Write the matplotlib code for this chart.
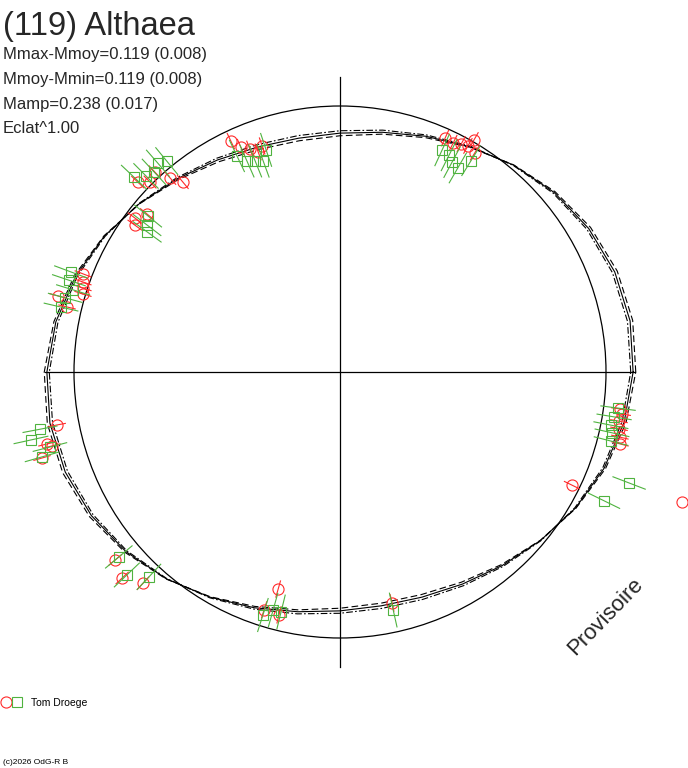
import numpy as np
import matplotlib
matplotlib.use("Agg")
import matplotlib.pyplot as plt
from matplotlib.patches import Circle
from matplotlib.legend_handler import HandlerTuple

plt.rcParams["font.family"] = ["Liberation Sans", "DejaVu Sans"]

# ---------------------------------------------------------------- data

title = "(119) Althaea"
stats = [
    "Mmax-Mmoy=0.119 (0.008)",
    "Mmoy-Mmin=0.119 (0.008)",
    "Mamp=0.238 (0.017)",
    "Eclat^1.00",
]
observer = "Tom Droege"

# phase angle [deg] and magnitude offset from mean [mag]
red_phase = [65.8, 63.7, 62.0, 60.5, 60.0, 58.4,
             115.3, 113.8, 112.0, 110.4, 109.0,
             136.8, 135.0, 132.8, 131.2, 129.6, 143.1, 140.7, 144.4,
             159.1, 160.7, 161.9, 163.1, 164.9, 166.6,
             190.6, 193.8, 194.4, 196.1,
             219.9, 223.4, 227.0,
             254.1, 252.3, 255.9,
             282.7,
             352.5, 351.5, 350.0, 348.5, 346.9, 345.6,
             334.0]
red_mag = [-0.040, -0.044, -0.033, -0.026, 0.008, -0.036,
           -0.044, -0.084, -0.106, -0.130, -0.112,
           0.047, 0.011, 0.027, -0.034, -0.081, -0.040, -0.069, -0.057,
           0.038, 0.026, 0.018, 0.011, 0.109, 0.061,
           0.091, 0.149, 0.131, 0.184,
           0.113, 0.141, 0.095,
           -0.168, -0.068, -0.065,
           -0.122,
           0.068, 0.080, 0.072, 0.078, 0.089, 0.096,
           -0.033]
red_err = 0.035

green_phase = [65.3, 63.3, 61.9, 60.0, 58.2,
               115.5, 113.8, 111.9, 110.0, 108.4,
               136.6, 134.7, 132.9, 131.1, 129.4, 140.9, 142.7, 144.0,
               159.6, 161.3, 162.9, 164.9, 166.9,
               190.8, 192.4, 194.5, 195.9,
               219.9, 223.6, 227.0,
               252.4, 254.3, 256.2,
               282.6,
               352.6, 350.7, 348.9, 347.4, 345.7,
               339.0, 334.0]
green_mag = [-0.090, -0.097, -0.117, -0.126, -0.073,
             -0.111, -0.148, -0.160, -0.172, -0.133,
             0.073, 0.041, 0.030, 0.046, 0.029, -0.078, -0.098, -0.115,
             0.088, 0.084, 0.055, 0.078, 0.085,
             0.164, 0.210, 0.140, 0.183,
             0.093, 0.118, 0.059,
             -0.046, -0.078, -0.079,
             -0.092,
             0.060, 0.049, 0.042, 0.053, 0.057,
             0.182, 0.116]
green_err = 0.072

# rejected point (no error bar)
rej_phase = [339.2]
rej_mag = [0.416]

# fitted lightcurve, read every 10 deg (fit, upper, lower)
fit_phase = np.arange(0, 360, 10)
fit_mag = [0.113, 0.119, 0.110, 0.088, 0.056, 0.017, -0.025, -0.063, -0.094,
           -0.113, -0.119, -0.110, -0.088, -0.056, -0.017, 0.025, 0.063, 0.094,
           0.113, 0.119, 0.110, 0.088, 0.056, 0.017, -0.025, -0.063, -0.094,
           -0.113, -0.119, -0.110, -0.088, -0.056, -0.017, 0.025, 0.063, 0.094]
fit_hi = [0.124, 0.130, 0.121, 0.097, 0.061, 0.018, -0.027, -0.069, -0.102,
          -0.124, -0.130, -0.121, -0.097, -0.061, -0.018, 0.027, 0.069, 0.102,
          0.124, 0.130, 0.121, 0.097, 0.061, 0.018, -0.027, -0.069, -0.102,
          -0.124, -0.130, -0.121, -0.097, -0.061, -0.018, 0.027, 0.069, 0.102]
fit_lo = [0.103, 0.108, 0.100, 0.080, 0.051, 0.015, -0.022, -0.057, -0.085,
          -0.103, -0.108, -0.100, -0.080, -0.051, -0.015, 0.022, 0.057, 0.085,
          0.103, 0.108, 0.100, 0.080, 0.051, 0.015, -0.022, -0.057, -0.085,
          -0.103, -0.108, -0.100, -0.080, -0.051, -0.015, 0.022, 0.057, 0.085]

# ---------------------------------------------------------------- layout

R0 = 266.0          # radius of mean magnitude circle
PX_PER_MAG = 240.0
ARM = 295.0
RED = "#ff2a2a"
GREEN = "#4fb33f"
TXT = "#262626"


def to_xy(phase, mag):
    r = R0 + PX_PER_MAG * np.asarray(mag, dtype=float)
    t = np.radians(np.asarray(phase, dtype=float))
    return r * np.cos(t), r * np.sin(t)


def closed(a):
    a = list(a)
    return a + a[:1]


fig = plt.figure(figsize=(6.88, 7.68), dpi=100)
ax = fig.add_axes([0, 0, 1, 1])
ax.set_xlim(-340, 348)
ax.set_ylim(-396, 372)
ax.axis("off")

# axes cross and mean circle
ax.plot([-ARM, ARM], [0, 0], color="black", lw=0.9)
ax.plot([0, 0], [-ARM, ARM], color="black", lw=0.9)
ax.add_patch(Circle((0, 0), R0, fill=False, ec="black", lw=0.9))

# fitted curves
x, y = to_xy(closed(fit_phase), closed(fit_mag))
ax.plot(x, y, color="black", lw=0.8)
x, y = to_xy(closed(fit_phase), closed(fit_hi))
ax.plot(x, y, color="black", lw=0.8, dashes=(6, 3))
x, y = to_xy(closed(fit_phase), closed(fit_lo))
ax.plot(x, y, color="black", lw=0.8, dashes=(6, 2, 1.5, 2))

# error bars (radial)
for p, m in zip(red_phase, red_mag):
    ex, ey = to_xy([p, p], [m - red_err, m + red_err])
    ax.plot(ex, ey, color=RED, lw=0.8, zorder=3)
for p, m in zip(green_phase, green_mag):
    ex, ey = to_xy([p, p], [m - green_err, m + green_err])
    ax.plot(ex, ey, color=GREEN, lw=0.8, zorder=4)

# points
x, y = to_xy(red_phase, red_mag)
h_red, = ax.plot(x, y, "o", ms=8, mfc="none", mec=RED, mew=0.8, zorder=3)
x, y = to_xy(rej_phase, rej_mag)
ax.plot(x, y, "o", ms=8, mfc="none", mec=RED, mew=0.8, zorder=3)
x, y = to_xy(green_phase, green_mag)
h_green, = ax.plot(x, y, "s", ms=7, mfc="none", mec=GREEN, mew=0.8, zorder=4)

# texts
W, H = 688.0, 768.0
fig.text(3 / W, 1 - 35 / H, title, fontsize=23.5, color=TXT, va="baseline")
for i, s in enumerate(stats):
    fig.text(3 / W, 1 - (59.5 + 24.5 * i) / H, s, fontsize=12,
             color=TXT, va="baseline")

ax.text(605 - 340, 372 - 617, "Provisoire", fontsize=16, color=TXT,
        rotation=46, ha="center", va="center")

fig.text(3 / W, 1 - 764 / H, "(c)2026 OdG-R B", fontsize=6, color="black",
         va="baseline")

ax.legend(handles=[(h_red, h_green)], labels=[observer],
          handler_map={tuple: HandlerTuple(ndivide=None, pad=0)},
          loc="center left", bbox_to_anchor=(0.5 / W, 1 - 703 / H),
          bbox_transform=fig.transFigure, frameon=False, fontsize=7.5,
          handlelength=2.1, handletextpad=0.8, borderpad=0,
          borderaxespad=0)

fig.savefig("out.png", dpi=100)
